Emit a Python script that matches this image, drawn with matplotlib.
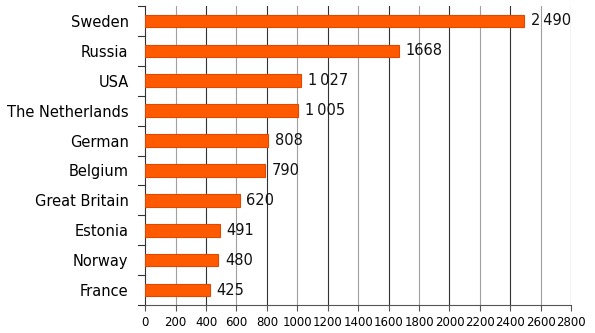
import matplotlib.pyplot as plt
import numpy as np

countries = ['Sweden', 'Russia', 'USA', 'The Netherlands', 'German',
             'Belgium', 'Great Britain', 'Estonia', 'Norway', 'France']
values = [2490, 1668, 1027, 1005, 808, 790, 620, 491, 480, 425]
value_labels = ['2\u2009490', '1668', '1\u2009027', '1\u2009005', '808',
                '790', '620', '491', '480', '425']
x_ticks = list(range(0, 2801, 200))

plt.rcParams['font.family'] = ['DejaVu Sans']

fig = plt.figure(figsize=(5.95, 3.33), dpi=100)
ax = fig.add_axes([0.244, 0.084, 0.716, 0.898])

y = np.arange(len(countries))[::-1]
ax.barh(y, values, height=0.42, color='#ff5a00', edgecolor='#e04800',
        linewidth=0.8, zorder=3)

for yi, v, lab in zip(y, values, value_labels):
    ax.text(v + 45, yi, lab, va='center', ha='left', fontsize=10.5,
            color='#111111')

ax.set_xlim(0, 2800)
ax.set_ylim(-0.5, len(countries) - 0.5)
ax.set_xticks(x_ticks)
ax.set_xticklabels([str(t) for t in x_ticks], fontsize=8.5)
ax.set_yticks(y)
ax.set_yticklabels(countries, fontsize=10.5)
ax.tick_params(axis='y', length=0, pad=12)
ax.tick_params(axis='x', length=4, color='#555555', pad=4)

# category separator ticks on the left spine
for b in np.arange(-0.5, len(countries), 1.0):
    ax.plot([-50, 0], [b, b], color='#333333', lw=0.8, clip_on=False)

# vertical gridlines, alternating shades
for i, t in enumerate(x_ticks[1:]):
    c = '#a0a0a0' if i % 2 == 0 else '#333333'
    ax.axvline(t, color=c, lw=0.8, zorder=1)

for s in ['top', 'right']:
    ax.spines[s].set_visible(False)
ax.spines['left'].set_color('#333333')
ax.spines['bottom'].set_color('#555555')

fig.savefig('out.png', dpi=100, facecolor='white')
